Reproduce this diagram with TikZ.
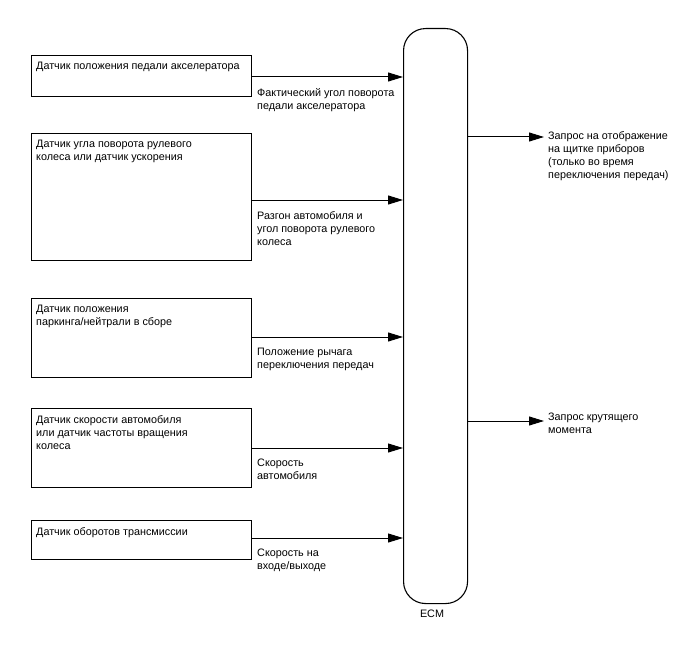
\documentclass[tikz,border=0pt]{standalone}
\usepackage{fontspec}
\setmainfont{Liberation Sans}
\usetikzlibrary{arrows.meta}
\begin{document}
\begin{tikzpicture}[x=1pt,y=-1pt,
  sensor/.style={draw=black, line width=1.1pt, anchor=north west, minimum width=220pt, inner sep=0pt},
  boxtext/.style={anchor=north west, inner sep=0pt, align=left, font=\fontsize{10.8}{13}\selectfont},
  lbl/.style={anchor=north west, inner sep=0pt, align=left, font=\fontsize{10.8}{13}\selectfont},
  sig/.style={line width=1pt, -{Triangle[length=15pt,width=9pt]}},
]
\useasboundingbox (0,0) rectangle (688,658);
% ECM
\node[draw=black, line width=1.1pt, rounded corners=22pt, minimum width=64pt, minimum height=575pt, anchor=north west, inner sep=0pt] (ecm) at (403,28) {};
\node[anchor=north, inner sep=0pt, font=\fontsize{10.8}{13}\selectfont] (ecml) at (432,610) {ECM};
% sensors
\node[sensor, minimum height=41pt] (b1) at (31,55) {};
\node[sensor, minimum height=127pt] (b2) at (31,133) {};
\node[sensor, minimum height=79pt] (b3) at (31,298) {};
\node[sensor, minimum height=79pt] (b4) at (31,408) {};
\node[sensor, minimum height=39pt] (b5) at (31,520) {};
\node[boxtext] (t1) at (36,62) {Датчик положения педали акселератора};
\node[boxtext] (t2) at (36,140) {Датчик угла поворота рулевого\\колеса или датчик ускорения};
\node[boxtext] (t3) at (36,305) {Датчик положения\\паркинга/нейтрали в сборе};
\node[boxtext] (t4) at (36,415) {Датчик скорости автомобиля\\или датчик частоты вращения\\колеса};
\node[boxtext] (t5) at (36,527) {Датчик оборотов трансмиссии};
% input arrows
\coordinate (s1) at (251,77);
\coordinate (s2) at (251,200);
\coordinate (s3) at (251,337);
\coordinate (s4) at (251,448);
\coordinate (s5) at (251,538);
\draw[sig] (s1) -- (s1 -| ecm.west);
\draw[sig] (s2) -- (s2 -| ecm.west);
\draw[sig] (s3) -- (s3 -| ecm.west);
\draw[sig] (s4) -- (s4 -| ecm.west);
\draw[sig] (s5) -- (s5 -| ecm.west);
\node[lbl] (l1) at (257,88) {Фактический угол поворота\\педали акселератора};
\node[lbl] (l2) at (257,211) {Разгон автомобиля и\\угол поворота рулевого\\колеса};
\node[lbl] (l3) at (257,348) {Положение рычага\\переключения передач};
\node[lbl] (l4) at (257,459) {Скорость\\автомобиля};
\node[lbl] (l5) at (257,549) {Скорость на\\входе/выходе};
% outputs
\coordinate (o1) at (544,137);
\coordinate (o2) at (544,421);
\draw[sig] (o1 -| ecm.east) -- (o1);
\draw[sig] (o2 -| ecm.east) -- (o2);
\node[lbl] (r1) at (548,131) {Запрос на отображение\\на щитке приборов\\(только во время\\переключения передач)};
\node[lbl] (r2) at (548,413) {Запрос крутящего\\момента};
\end{tikzpicture}
\end{document}
